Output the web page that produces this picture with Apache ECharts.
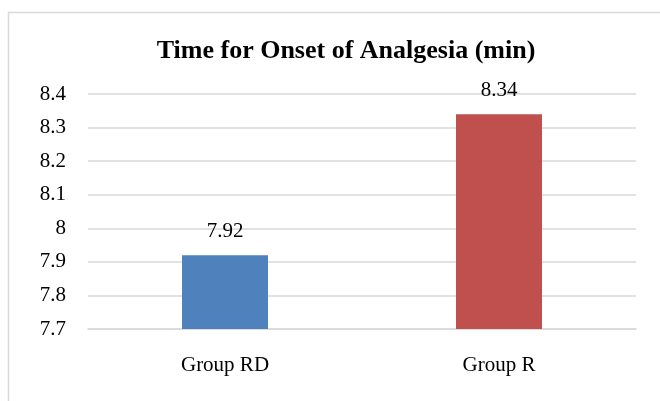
<!DOCTYPE html>
<html>
<head>
<meta charset="utf-8">
<script src="https://cdn.jsdelivr.net/npm/echarts@6/dist/echarts.min.js"></script>
<style>
  html, body { margin: 0; padding: 0; background: #fff; }
  #chart { width: 660px; height: 401px; }
</style>
</head>
<body>
<div id="chart"></div>
<script>
var groups = ['Group RD', 'Group R'];
var onsetTimes = [7.92, 8.34];
var barColors = ['#4f81bd', '#c0504d'];

var myChart = echarts.init(document.getElementById('chart'));

var option = {
  animation: false,
  backgroundColor: '#fff',
  graphic: [{
    type: 'rect',
    silent: true,
    shape: { x: 8.5, y: 12.5, width: 700, height: 500 },
    style: { fill: 'none', stroke: '#d9d9d9', lineWidth: 1.5 }
  }],
  title: {
    text: 'Time for Onset of Analgesia (min)',
    left: 341,
    textAlign: 'center',
    top: 33,
    textStyle: {
      fontFamily: 'Liberation Serif',
      fontWeight: 'bold',
      fontSize: 26,
      color: '#000'
    }
  },
  grid: { left: 88, right: 24, top: 94, bottom: 72, containLabel: false },
  xAxis: {
    type: 'category',
    data: groups,
    axisLine: { show: true, lineStyle: { color: '#d9d9d9', width: 1.5 } },
    axisTick: { show: false },
    axisLabel: {
      margin: 26,
      fontFamily: 'Liberation Serif',
      fontSize: 21,
      color: '#000'
    }
  },
  yAxis: {
    type: 'value',
    min: 7.7,
    max: 8.4,
    interval: 0.1,
    axisLine: { show: false },
    axisTick: { show: false },
    splitLine: { lineStyle: { color: '#d9d9d9', width: 1.5 } },
    axisLabel: {
      margin: 22,
      fontFamily: 'Liberation Serif',
      fontSize: 21,
      color: '#000',
      formatter: function (v) { return String(Math.round(v * 10) / 10); }
    }
  },
  series: [{
    type: 'bar',
    barWidth: 86,
    data: onsetTimes.map(function (v, i) {
      return { value: v, itemStyle: { color: barColors[i] } };
    }),
    label: {
      show: true,
      position: 'top',
      distance: 13,
      fontFamily: 'Liberation Serif',
      fontSize: 21,
      color: '#000'
    }
  }]
};

myChart.setOption(option);
</script>
</body>
</html>
